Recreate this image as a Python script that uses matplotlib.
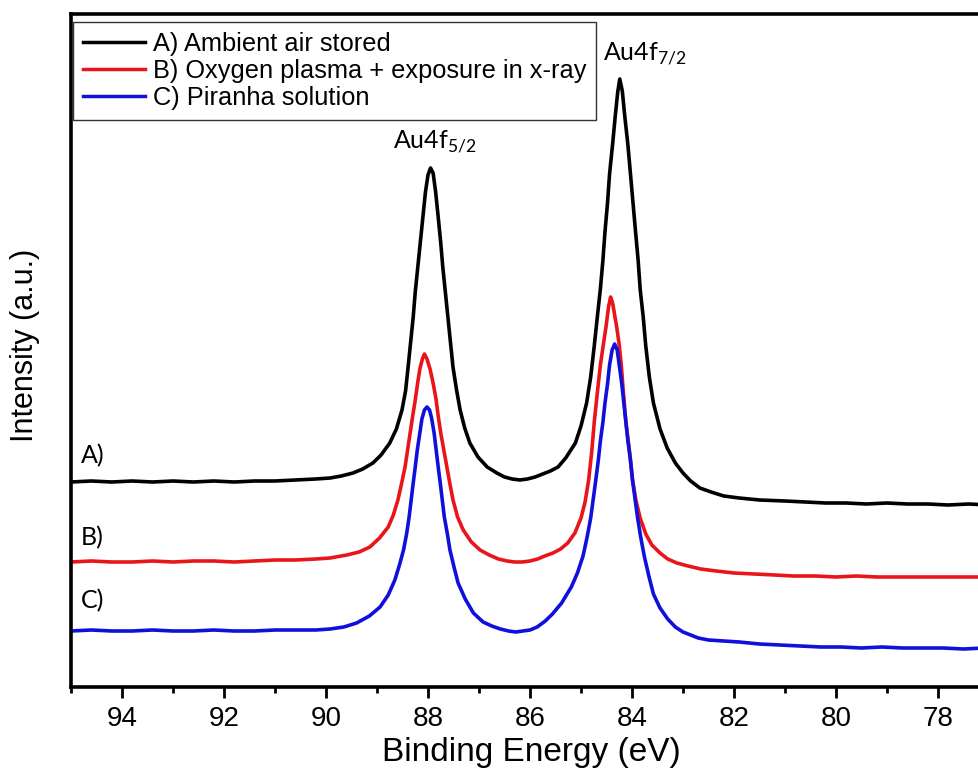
import numpy as np
import matplotlib.pyplot as plt
from matplotlib.ticker import MultipleLocator

# binding energy (eV) and intensity (a.u.)
be_a = [95.0, 94.6, 94.2, 93.8, 93.4, 93.0, 92.6, 92.2, 91.8, 91.4, 91.0, 90.6, 90.2, 89.92,
        89.7, 89.47, 89.28, 89.08, 88.92, 88.75, 88.62, 88.51, 88.44, 88.39, 88.34, 88.29,
        88.25, 88.20, 88.15, 88.10, 88.05, 88.00, 87.95, 87.90, 87.85, 87.80, 87.75, 87.71,
        87.66, 87.61, 87.56, 87.51, 87.44, 87.37, 87.28, 87.18, 87.02, 86.84, 86.65, 86.50,
        86.35, 86.20, 86.05, 85.90, 85.75, 85.60, 85.45, 85.30, 85.11, 85.00, 84.89, 84.81,
        84.74, 84.68, 84.62, 84.57, 84.53, 84.48, 84.44, 84.38, 84.33, 84.28, 84.24, 84.19,
        84.14, 84.08, 84.03, 83.98, 83.93, 83.88, 83.84, 83.78, 83.73, 83.66, 83.58, 83.45,
        83.31, 83.15, 83.0, 82.85, 82.67, 82.45, 82.2, 81.9, 81.5, 81.0, 80.6, 80.2, 79.8,
        79.4, 79.0, 78.6, 78.2, 77.8, 77.4, 77.0, 76.6, 76.0]
int_a = [205, 206, 205, 206, 205, 206, 205, 206, 205, 206, 206, 207, 208, 209,
         211, 214, 218, 224, 232, 244, 258, 277, 296, 320, 345, 370,
         395, 420, 445, 470, 495, 512, 519, 514, 495, 470, 444, 420,
         395, 370, 345, 320, 297, 277, 259, 244, 230, 220, 214, 210,
         208, 207, 208, 210, 213, 216, 220, 229, 244, 261, 284, 310,
         341, 370, 398, 427, 455, 484, 513, 543, 570, 595, 608, 596,
         570, 542, 513, 484, 455, 427, 398, 370, 341, 310, 284, 258,
         239, 224, 214, 206, 199, 195, 191, 189, 187, 186, 185, 184, 184,
         183, 184, 183, 183, 182, 183, 182, 182, 182]

be_b = [95.0, 94.6, 94.2, 93.8, 93.4, 93.0, 92.6, 92.2, 91.8, 91.4, 91.0, 90.6, 90.2, 89.92,
        89.59, 89.35, 89.14, 88.95, 88.78, 88.68, 88.59, 88.52, 88.45, 88.40, 88.35, 88.30,
        88.25, 88.20, 88.16, 88.11, 88.07, 88.02, 87.96, 87.90, 87.84, 87.80, 87.75, 87.69,
        87.63, 87.57, 87.51, 87.42, 87.31, 87.15, 86.98, 86.80, 86.62, 86.45, 86.30, 86.15,
        86.00, 85.85, 85.71, 85.55, 85.40, 85.26, 85.12, 85.00, 84.92, 84.85, 84.79, 84.74,
        84.68, 84.62, 84.56, 84.51, 84.46, 84.42, 84.38, 84.34, 84.30, 84.25, 84.21, 84.17,
        84.12, 84.05, 83.99, 83.92, 83.84, 83.73, 83.61, 83.45, 83.30, 83.12, 82.9, 82.65,
        82.35, 82.0, 81.6, 81.2, 80.84, 80.4, 80.0, 79.6, 79.2, 78.8, 78.4, 78.0, 77.6,
        77.2, 76.0]
int_b = [125, 126, 125, 125, 126, 125, 126, 126, 125, 126, 127, 127, 128, 129,
         132, 135, 140, 149, 160, 172, 187, 203, 220, 237, 254, 271,
         287, 305, 318, 328, 333, 328, 318, 304, 287, 271, 254, 237,
         220, 203, 187, 170, 157, 145, 137, 132, 128, 126, 125, 125,
         126, 128, 131, 134, 138, 144, 154, 169, 185, 207, 235, 265,
         294, 322, 343, 360, 380, 390, 384, 372, 360, 342, 322, 295,
         265, 236, 207, 186, 169, 153, 142, 134, 128, 124, 121, 118,
         116, 114, 113, 112, 111, 111, 110, 111, 110, 110, 110, 110, 110,
         110, 110]

be_c = [95.0, 94.6, 94.2, 93.8, 93.4, 93.0, 92.6, 92.2, 91.8, 91.4, 91.0, 90.6, 90.2, 89.92,
        89.65, 89.40, 89.15, 88.94, 88.78, 88.65, 88.56, 88.48, 88.42, 88.37, 88.33, 88.29,
        88.25, 88.21, 88.16, 88.12, 88.07, 88.02, 87.97, 87.93, 87.88, 87.84, 87.80, 87.76,
        87.72, 87.68, 87.62, 87.57, 87.49, 87.41, 87.27, 87.11, 86.92, 86.75, 86.58, 86.42,
        86.28, 86.14, 86.00, 85.86, 85.70, 85.56, 85.38, 85.19, 85.07, 84.96, 84.88, 84.81,
        84.76, 84.71, 84.66, 84.62, 84.57, 84.53, 84.48, 84.44, 84.39, 84.34, 84.29, 84.25,
        84.20, 84.16, 84.12, 84.08, 84.03, 83.99, 83.94, 83.89, 83.83, 83.76, 83.67, 83.58,
        83.45, 83.30, 83.15, 83.0, 82.85, 82.7, 82.5, 82.2, 81.9, 81.5, 81.1, 80.7, 80.3,
        79.9, 79.5, 79.1, 78.7, 78.3, 77.9, 77.5, 77.1, 76.0]
int_c = [56, 57, 56, 56, 57, 56, 56, 57, 56, 56, 57, 57, 57, 58,
         60, 64, 71, 80, 92, 107, 122, 137, 153, 170, 187, 204,
         220, 237, 254, 268, 277, 280, 277, 269, 254, 237, 220, 204,
         187, 170, 153, 137, 120, 104, 88, 74, 65, 61, 58, 56,
         55, 56, 57, 60, 66, 73, 84, 100, 114, 131, 150, 169,
         188, 207, 227, 246, 265, 284, 303, 322, 337, 343, 337, 322,
         303, 284, 265, 246, 227, 207, 188, 169, 150, 131, 111, 93,
         79, 68, 60, 55, 52, 49, 47, 46, 45, 43, 42, 41, 40,
         40, 39, 40, 39, 39, 39, 38, 39, 38]

labels = ["A) Ambient air stored", "B) Oxygen plasma + exposure in x-ray", "C) Piranha solution"]
colors = ["black", "#e8161b", "#1010dd"]

W, H = 979, 769
fig = plt.figure(figsize=(W / 100, H / 100), dpi=100)
ax = fig.add_axes([71 / W, (H - 687) / H, 19 * 51 / W, 673 / H])

for be, it, lab, c in zip([be_a, be_b, be_c], [int_a, int_b, int_c], labels, colors):
    ax.plot(be, it, color=c, lw=2.6, label=lab)

ax.set_xlim(95, 76)
ax.set_ylim(0, 673)
ax.set_xticks(range(78, 96, 2))
ax.xaxis.set_minor_locator(MultipleLocator(1))
ax.set_yticks([])
for s in ax.spines.values():
    s.set_linewidth(2.6)
ax.tick_params(axis="x", which="major", direction="out", length=8, width=2, pad=6,
               labelsize=20)
ax.tick_params(axis="x", which="minor", direction="out", length=4.5, width=2)
for t in ax.get_xticklabels():
    t.set_fontfamily(["Liberation Sans Narrow", "Liberation Sans", "DejaVu Sans"])

fig.text(531 / W, (H - 752) / H, "Binding Energy (eV)", ha="center", va="center",
         fontsize=24, family=["Liberation Sans", "DejaVu Sans"])
fig.text(25 / W, (H - 345) / H, "Intensity (a.u.)", ha="center", va="center",
         rotation=90, fontsize=22, family=["Liberation Sans", "DejaVu Sans"])

leg = ax.legend(loc="upper left", bbox_to_anchor=(73 / W, (H - 22) / H),
                bbox_transform=fig.transFigure, borderaxespad=0, fancybox=False,
                edgecolor="#333333", framealpha=1, handlelength=2.45, handletextpad=0.28,
                labelspacing=0.12, borderpad=0.4, prop={"family": "Liberation Sans", "size": 18.3})
leg.get_frame().set_linewidth(1.0)
for ln in leg.get_lines():
    ln.set_linewidth(2.5)

cal = ["Lato", "DejaVu Sans"]
ax.annotate(r"Au4f$_\mathregular{5/2}$", (88.0, 0), xycoords=("data", "axes fraction"),
            xytext=(435, H - 148), textcoords="figure pixels", ha="center", va="baseline",
            fontsize=18, family=cal)
ax.annotate(r"Au4f$_\mathregular{7/2}$", (84.2, 0), xycoords=("data", "axes fraction"),
            xytext=(645, H - 60), textcoords="figure pixels", ha="center", va="baseline",
            fontsize=18, family=cal)
for txt, yb in zip(["A)", "B)", "C)"], [463, 545, 608]):
    fig.text(81 / W, (H - yb) / H, txt, ha="left", va="baseline", fontsize=18, family=cal)

fig.savefig("out.png", dpi=100)
